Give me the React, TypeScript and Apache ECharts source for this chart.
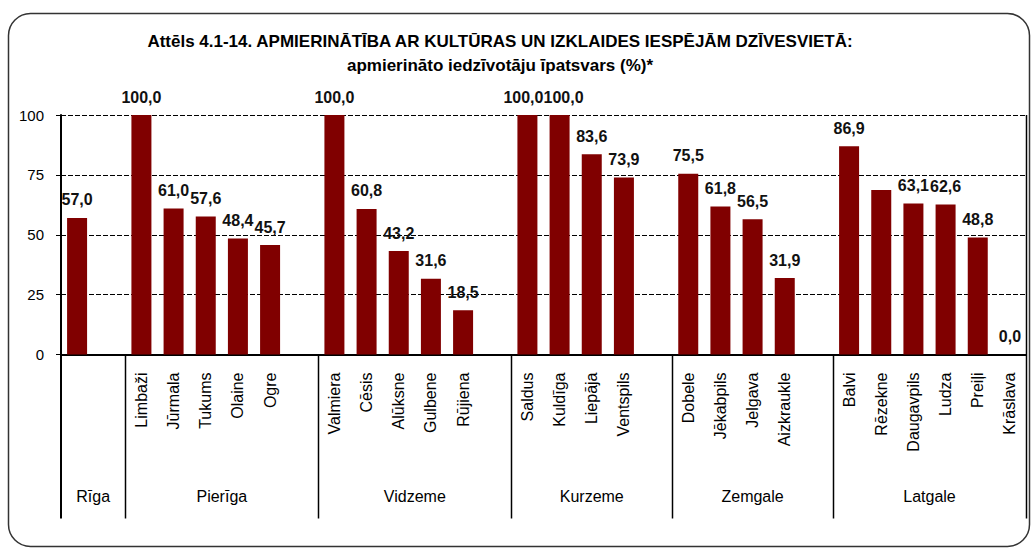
import React, { useEffect, useRef } from "react";
import * as echarts from "echarts";

const titleLine1 = "Attēls 4.1-14. APMIERINĀTĪBA AR KULTŪRAS UN IZKLAIDES IESPĒJĀM DZĪVESVIETĀ:";
const titleLine2 = "apmierināto iedzīvotāju īpatsvars (%)*";

const groupNames = ["Rīga", "Pierīga", "Vidzeme", "Kurzeme", "Zemgale", "Latgale"];

const rigaCities = [""];
const pierigaCities = ["Limbaži", "Jūrmala", "Tukums", "Olaine", "Ogre"];
const vidzemeCities = ["Valmiera", "Cēsis", "Alūksne", "Gulbene", "Rūjiena"];
const kurzemeCities = ["Saldus", "Kuldīga", "Liepāja", "Ventspils"];
const zemgaleCities = ["Dobele", "Jēkabpils", "Jelgava", "Aizkraukle"];
const latgaleCities = ["Balvi", "Rēzekne", "Daugavpils", "Ludza", "Preiļi", "Krāslava"];

const rigaValues = [57.0];
const pierigaValues = [100.0, 61.0, 57.6, 48.4, 45.7];
const vidzemeValues = [100.0, 60.8, 43.2, 31.6, 18.5];
const kurzemeValues = [100.0, 100.0, 83.6, 73.9];
const zemgaleValues = [75.5, 61.8, 56.5, 31.9];
const latgaleValues = [86.9, 68.7, 63.1, 62.6, 48.8, 0.0];

// cities whose value label is not shown in the reference
const unlabeledCities = ["Rēzekne"];
// small horizontal nudges so neighbouring labels do not collide
const labelNudges: Record<string, number> = { Saldus: -4, Kuldīga: 4 };

const yTicks = [0, 25, 50, 75, 100];

const cityGroups = [rigaCities, pierigaCities, vidzemeCities, kurzemeCities, zemgaleCities, latgaleCities];
const valueGroups = [rigaValues, pierigaValues, vidzemeValues, kurzemeValues, zemgaleValues, latgaleValues];

export default function App() {
  const ref = useRef<HTMLDivElement>(null);

  useEffect(() => {
    if (!ref.current) return;
    const chart = echarts.init(ref.current, null, { renderer: "svg" });

    const categories: string[] = [];
    const data: any[] = [];
    const groupStart: number[] = [];
    cityGroups.forEach((cities, gi) => {
      groupStart.push(categories.length);
      cities.forEach((c, ci) => {
        categories.push(c);
        const v = valueGroups[gi][ci];
        if (unlabeledCities.includes(c)) {
          data.push({ value: v, label: { show: false } });
        } else if (labelNudges[c] !== undefined) {
          data.push({ value: v, label: { offset: [labelNudges[c], 0] } });
        } else {
          data.push(v);
        }
      });
      if (gi < cityGroups.length - 1) {
        categories.push("");
        data.push("-");
      }
    });
    const nCat = categories.length;

    const font = "'Liberation Sans', Arial, sans-serif";

    chart.setOption({
      animation: false,
      title: {
        text: titleLine1,
        subtext: titleLine2,
        left: 500,
        top: 31,
        textAlign: "center",
        padding: 0,
        itemGap: 4,
        textStyle: { fontFamily: font, fontSize: 17, fontWeight: "bold", color: "#000", lineHeight: 20 },
        subtextStyle: { fontFamily: font, fontSize: 17, fontWeight: "bold", color: "#000", lineHeight: 20 },
      },
      grid: { left: 61, right: 5, top: 115, bottom: 194.5 },
      xAxis: {
        type: "category",
        data: categories,
        axisLine: { show: true, lineStyle: { color: "#000", width: 2 } },
        axisTick: { show: false },
        axisLabel: {
          interval: 0,
          rotate: 90,
          margin: 18,
          fontFamily: font,
          fontSize: 16,
          color: "#000",
        },
      },
      yAxis: {
        type: "value",
        min: yTicks[0],
        max: yTicks[yTicks.length - 1],
        interval: 25,
        axisLine: { show: true, lineStyle: { color: "#000", width: 2 } },
        axisTick: { show: true, length: 5, lineStyle: { color: "#000", width: 1 } },
        axisLabel: { margin: 17, fontFamily: font, fontSize: 15, color: "#000" },
        splitLine: { show: true, lineStyle: { color: "#000", width: 1, type: [5, 2] } },
      },
      series: [
        {
          type: "bar",
          data,
          barWidth: 20,
          itemStyle: { color: "#800000" },
          label: {
            show: true,
            position: "top",
            distance: 10,
            fontFamily: font,
            fontSize: 16,
            fontWeight: "bold",
            color: "#111",
            formatter: (p: any) => Number(p.value).toFixed(1).replace(".", ","),
          },
        },
      ],
    });

    const c0 = chart.convertToPixel({ xAxisIndex: 0 }, 0) as number;
    const c1 = chart.convertToPixel({ xAxisIndex: 0 }, 1) as number;
    const band = c1 - c0;
    const yZero = chart.convertToPixel({ yAxisIndex: 0 }, 0) as number;
    const yTop = chart.convertToPixel({ yAxisIndex: 0 }, 100) as number;
    const yBottom = yZero + 164;
    const boundary = (i: number) => c0 - band / 2 + i * band;

    const graphics: any[] = [
      {
        type: "rect",
        shape: { x: 8.5, y: 13.5, width: 1021, height: 533, r: 22 },
        style: { fill: "none", stroke: "#333", lineWidth: 1.5 },
        silent: true,
        z: -1,
      },
    ];
    const bounds = [...groupStart, nCat];
    bounds.forEach((b, i) => {
      const x = Math.round(boundary(b)) + (i === 0 ? 0 : 0.5);
      const isRight = i === bounds.length - 1;
      graphics.push({
        type: "line",
        shape: { x1: x, y1: isRight ? yTop : yZero, x2: x, y2: yBottom },
        style: { stroke: "#000", lineWidth: i === 0 ? 2 : 1.5 },
        silent: true,
      });
    });
    groupNames.forEach((g, gi) => {
      const start = boundary(groupStart[gi]);
      const end = gi < groupNames.length - 1 ? boundary(groupStart[gi + 1]) : boundary(nCat);
      graphics.push({
        type: "text",
        x: (start + end) / 2,
        y: yZero + 142,
        style: {
          text: g,
          fontFamily: font,
          fontSize: 16,
          fill: "#000",
          align: "center",
          verticalAlign: "middle",
        },
        silent: true,
      });
    });
    chart.setOption({ graphic: graphics });

    return () => chart.dispose();
  }, []);

  return (
    <div
      ref={ref}
      style={{ position: "fixed", left: 0, top: 0, width: 1031, height: 549, background: "#fff" }}
    />
  );
}
